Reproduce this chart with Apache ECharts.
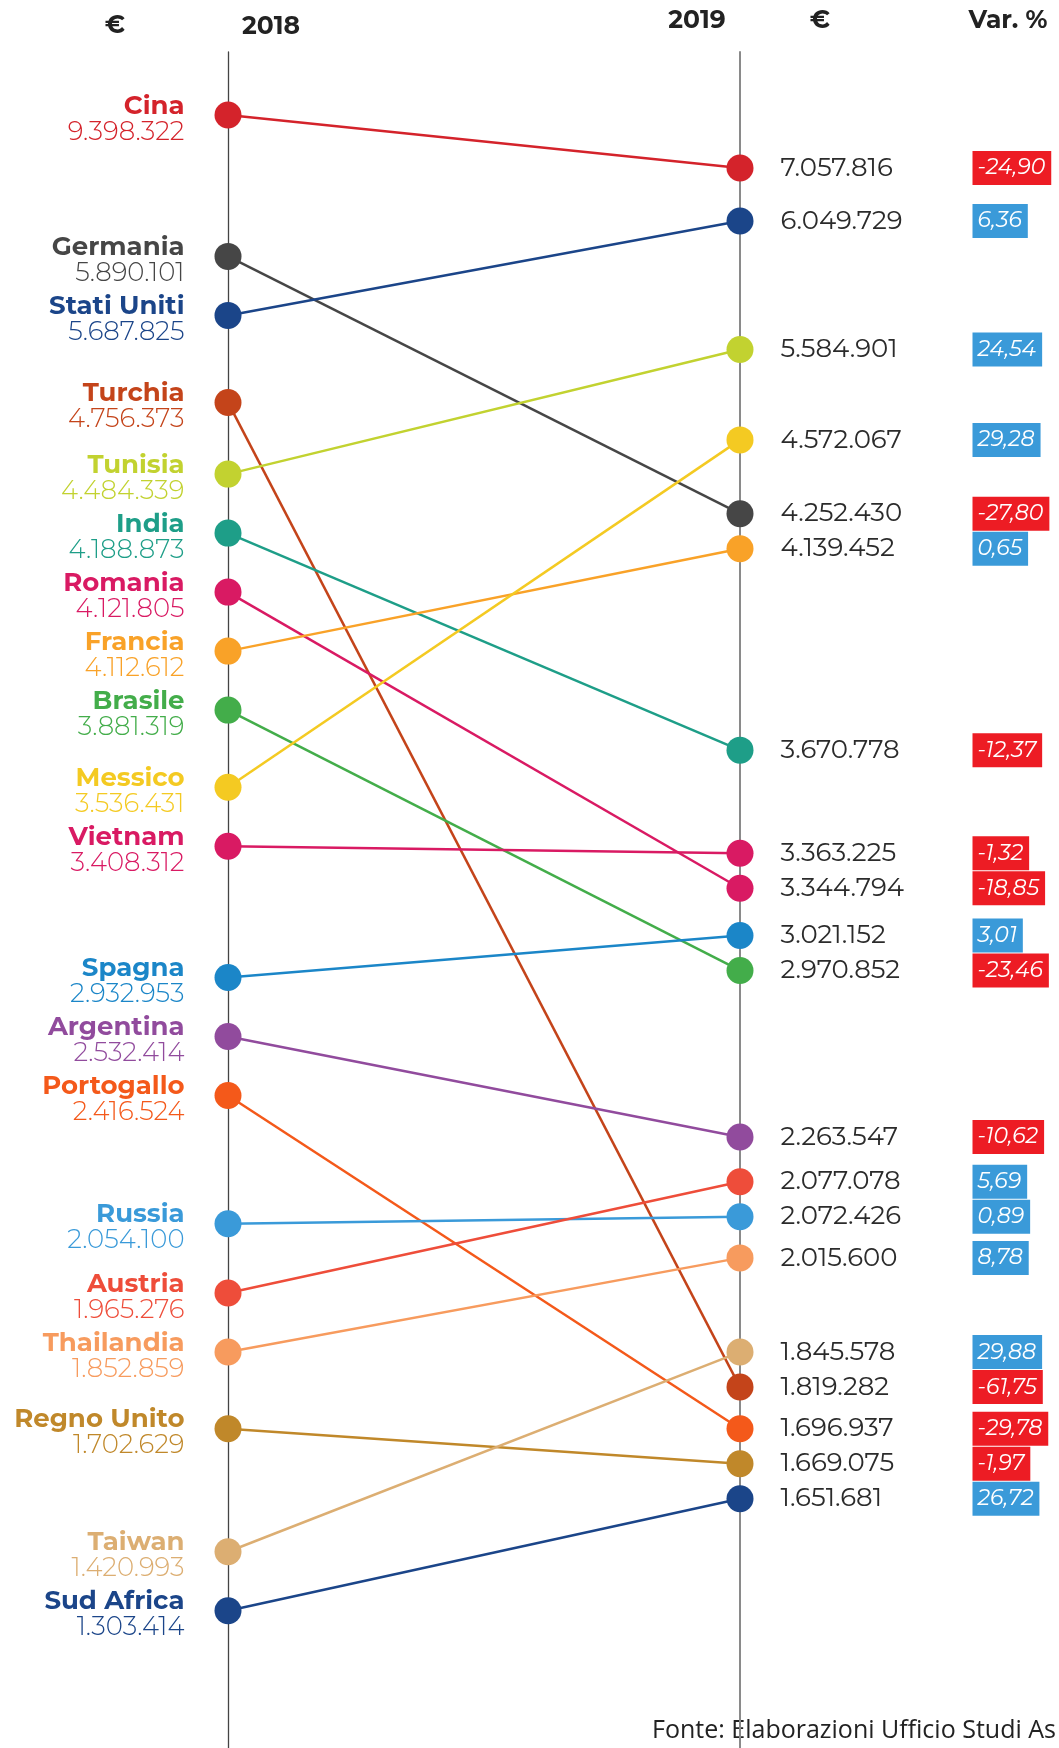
<!DOCTYPE html>
<html>
<head>
<meta charset="utf-8">
<script src="https://cdn.jsdelivr.net/npm/echarts@6/dist/echarts.min.js"></script>
<style>
  html, body { margin: 0; padding: 0; background: #fff; }
  #chart { width: 1059px; height: 1748px; }
</style>
</head>
<body>
<div id="chart"></div>
<script>
// export per paese, 2018 vs 2019 (euro) e variazione %
var countries = ['Cina', 'Germania', 'Stati Uniti', 'Turchia', 'Tunisia', 'India', 'Romania', 'Francia',
    'Brasile', 'Messico', 'Vietnam', 'Spagna', 'Argentina', 'Portogallo', 'Russia', 'Austria',
    'Thailandia', 'Regno Unito', 'Taiwan', 'Sud Africa'];
var values2018 = [9398322, 5890101, 5687825, 4756373, 4484339, 4188873, 4121805, 4112612,
    3881319, 3536431, 3408312, 2932953, 2532414, 2416524, 2054100, 1965276,
    1852859, 1702629, 1420993, 1303414];
var values2019 = [7057816, 4252430, 6049729, 1819282, 5584901, 3670778, 3344794, 4139452,
    2970852, 4572067, 3363225, 3021152, 2263547, 1696937, 2072426, 2077078,
    2015600, 1669075, 1845578, 1651681];
var varPct = [-24.90, -27.80, 6.36, -61.75, 24.54, -12.37, -18.85, 0.65,
    -23.46, 29.28, -1.32, 3.01, -10.62, -29.78, 0.89, 5.69,
    8.78, -1.97, 29.88, 26.72];
var yearLabels = ['2018', '2019'];

// colori per paese
var colors = ['#d4232b', '#464646', '#1b4589', '#c4441a', '#c2d230', '#1e9e88', '#d91a63', '#f9a228',
    '#43ad4a', '#f4ca22', '#d91a63', '#1b86c8', '#914b9d', '#f4591a', '#3a9ad9', '#ee4d3a',
    '#f79b5e', '#c0882a', '#dcae72', '#1b4589'];

var FONT = "Montserrat, 'Open Sans', sans-serif";

function fmt(n) {
    return String(n).replace(/\B(?=(\d{3})+(?!\d))/g, '.');
}
function fmtPct(p) {
    return p.toFixed(2).replace('.', ',');
}

// posizioni verticali (px): ordine per valore, passo minimo e spazio per le etichette di ogni colonna
function layoutSlots() {
    var items = [];
    countries.forEach(function(c, i) {
        items.push({ i: i, col: 0, v: values2018[i] });
        items.push({ i: i, col: 1, v: values2019[i] });
    });
    items.sort(function(a, b) { return b.v - a.v; });
    var step = 31, minGap = [59, 35];
    var last = [null, null], prev = null, prevV = null, prevCol = null;
    var slots = [[], []];
    items.forEach(function(it) {
        var p = 0;
        if (prev !== null) {
            var rel = (prevV - it.v) / prevV;
            if (it.col !== prevCol && rel < 0.005) p = prev;
            else if (it.col !== prevCol && rel < 0.015) p = prev + 7;
            else p = prev + step + Math.min(22, rel * 167);
            if (last[it.col] !== null) p = Math.max(p, last[it.col] + minGap[it.col]);
        }
        slots[it.col][it.i] = p;
        last[it.col] = p;
        prev = p;
        prevV = it.v;
        prevCol = it.col;
    });
    return slots;
}

var slots = layoutSlots();
var W = 1059, H = 1748;
var gridTop = 52, firstY = 115;
var yMin = -(firstY - gridTop);
var yMax = yMin + (H - gridTop);

var series = countries.map(function(name, i) {
    var col = colors[i];
    return {
        type: 'line',
        name: name,
        clip: false,
        symbol: 'circle',
        symbolSize: 27,
        lineStyle: { color: col, width: 2.5 },
        itemStyle: { color: col },
        z: 2 + i,
        data: [
            {
                value: [0, slots[0][i]],
                label: {
                    show: true,
                    position: 'left',
                    distance: 30,
                    offset: [0, 4],
                    formatter: '{n|' + name + '}\n{v|' + fmt(values2018[i]) + '}',
                    rich: {
                        n: { fontFamily: FONT, fontWeight: 'bold', fontSize: 26, color: col, lineHeight: 26, align: 'right' },
                        v: { fontFamily: FONT, fontWeight: 300, fontSize: 26, color: col, lineHeight: 26, align: 'right' }
                    }
                }
            },
            {
                value: [1, slots[1][i]],
                label: {
                    show: true,
                    position: 'right',
                    distance: 27,
                    formatter: '{v|' + fmt(values2019[i]) + '}{' + (varPct[i] < 0 ? 'neg' : 'pos') + '|' + fmtPct(varPct[i]) + '}',
                    rich: {
                        v: { fontFamily: FONT, fontSize: 26, color: '#2b2b2b', width: 192, align: 'left' },
                        neg: { fontFamily: FONT, fontStyle: 'italic', fontSize: 22, color: '#fff', backgroundColor: '#ed1c24', padding: [5, 6, 5, 5], height: 24, lineHeight: 24 },
                        pos: { fontFamily: FONT, fontStyle: 'italic', fontSize: 22, color: '#fff', backgroundColor: '#3a9ad9', padding: [5, 6, 5, 5], height: 24, lineHeight: 24 }
                    }
                }
            }
        ]
    };
});

var headStyle = { fontFamily: FONT, fontWeight: 'bold', fontSize: 25, fill: '#222', textAlign: 'center', textVerticalAlign: 'middle' };
function head(text, x, y) {
    return { type: 'text', x: x, y: y, style: Object.assign({ text: text }, headStyle) };
}

var chart = echarts.init(document.getElementById('chart'), null, { renderer: 'canvas' });
chart.setOption({
    animation: false,
    backgroundColor: '#fff',
    grid: { left: 228, right: W - 740, top: gridTop, bottom: 0 },
    xAxis: { type: 'value', min: 0, max: 1, show: false },
    yAxis: [
        {
            type: 'value', inverse: true, min: yMin, max: yMax, position: 'left',
            axisLine: { show: true, onZero: false, lineStyle: { color: '#444', width: 1.3 } },
            axisTick: { show: false }, axisLabel: { show: false }, splitLine: { show: false }
        },
        {
            type: 'value', inverse: true, min: yMin, max: yMax, position: 'right',
            axisLine: { show: true, onZero: false, lineStyle: { color: '#8a8a8a', width: 2 } },
            axisTick: { show: false }, axisLabel: { show: false }, splitLine: { show: false }
        }
    ],
    graphic: [
        head('€', 115, 26),
        head(yearLabels[0], 271, 27),
        head(yearLabels[1], 697, 21),
        head('€', 820, 21),
        head('Var. %', 1008, 21),
        {
            type: 'text', x: 652, y: 1731,
            style: { text: 'Fonte: Elaborazioni Ufficio Studi As', fontFamily: "'Open Sans', sans-serif", fontSize: 25, fill: '#222', textVerticalAlign: 'middle' }
        }
    ],
    series: series
});
</script>
</body>
</html>
